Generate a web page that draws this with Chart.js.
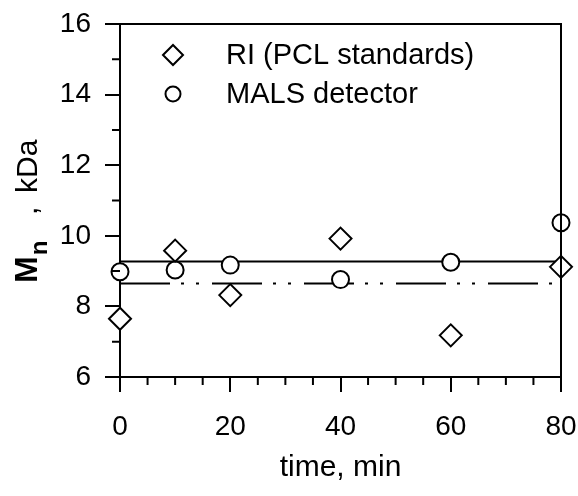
<!DOCTYPE html>
<html>
<head>
<meta charset="utf-8">
<script src="https://cdn.jsdelivr.net/npm/chart.js@4/dist/chart.umd.min.js"></script>
<style>
  html, body { margin:0; padding:0; background:#fff; }
  #wrap { width:578px; height:496px; }
</style>
</head>
<body>
<div id="wrap"><canvas id="mnChart" width="578" height="496"></canvas></div>
<script>
// sampling times (min)
const times = [0, 10, 20, 40, 60, 80];
// Mn, kDa
const riValues   = [7.65, 9.58, 8.32, 9.92, 7.18, 9.12];
const malsValues = [8.98, 9.03, 9.17, 8.76, 9.25, 10.37];
// horizontal average lines
const fitRange = [0, 80];
const malsMean = 9.27;
const riMean = 8.65;
// axes
const xTicks = [0, 20, 40, 60, 80];
const yTicks = [6, 8, 10, 12, 14, 16];
const xMinorStep = 5;
const yMinorStep = 1;
const legendLabels = ['RI (PCL standards)', 'MALS detector'];

const FONT = "'Liberation Sans', Arial, sans-serif";
const ink = '#000';

const pts = vals => times.map((t, i) => ({x:t, y:vals[i]}));
const flat = v => fitRange.map(t => ({x:t, y:v}));

const markerStyle = [
  {pointStyle:'rectRot', radius:11},
  {pointStyle:'circle', radius:8.5},
];

// minor ticks, frame box, legend and the rotated y title
const extras = {
  id:'extras',
  afterDraw(chart) {
    const {ctx, chartArea:a, scales:{x, y}} = chart;
    ctx.save();
    ctx.strokeStyle = ink;
    ctx.lineWidth = 2;
    // top + right of frame
    ctx.beginPath();
    ctx.moveTo(a.left, a.top); ctx.lineTo(a.right, a.top); ctx.lineTo(a.right, a.bottom);
    ctx.stroke();
    // minor ticks
    ctx.beginPath();
    for (let v = y.min + yMinorStep; v < y.max; v += yMinorStep) {
      if (yTicks.includes(v)) continue;
      const py = y.getPixelForValue(v);
      ctx.moveTo(a.left - 8, py); ctx.lineTo(a.left, py);
    }
    for (let v = x.min + xMinorStep; v < x.max; v += xMinorStep) {
      if (xTicks.includes(v)) continue;
      const px = x.getPixelForValue(v);
      ctx.moveTo(px, a.bottom); ctx.lineTo(px, a.bottom + 8);
    }
    ctx.stroke();

    // legend inside plot
    ctx.font = '29px ' + FONT;
    ctx.textBaseline = 'middle';
    legendLabels.forEach((lab, i) => {
      const cy = a.top + 31 + i * 39;
      const ms = markerStyle[i];
      ctx.fillStyle = '#fff';
      Chart.helpers.drawPoint(ctx, {pointStyle:ms.pointStyle, radius:ms.radius - 1, borderWidth:2, rotation:0}, a.left + 53, cy);
      ctx.fillStyle = ink;
      ctx.fillText(lab, a.left + 106, cy + 1);
    });

    // y title: M (bold) + n (bold subscript) + " , kDa"
    ctx.translate(37, 283);
    ctx.rotate(-Math.PI / 2);
    ctx.textBaseline = 'alphabetic';
    ctx.textAlign = 'left';
    ctx.font = 'bold 32px ' + FONT;
    ctx.fillText('M', 0, 0);
    const w = ctx.measureText('M').width;
    ctx.font = 'bold 24px ' + FONT;
    ctx.fillText('n', w + 1, 10);
    ctx.font = '30px ' + FONT;
    ctx.fillText(',', 68, 0);
    ctx.fillText('kDa', 90, 0);
    ctx.restore();
  }
};

new Chart(document.getElementById('mnChart'), {
  type:'scatter',
  data:{
    datasets:[
      {label:legendLabels[0], data:pts(riValues), pointStyle:'rectRot', pointRadius:11, pointHoverRadius:11,
       borderColor:ink, backgroundColor:'#fff', pointBorderWidth:2, clip:false},
      {label:legendLabels[1], data:pts(malsValues), pointStyle:'circle', pointRadius:8.5, pointHoverRadius:8.5,
       borderColor:ink, backgroundColor:'#fff', pointBorderWidth:2, clip:false},
      {type:'line', data:flat(malsMean), borderColor:ink, borderWidth:2, pointRadius:0, fill:false},
      {type:'line', data:flat(riMean), borderColor:ink, borderWidth:2, pointRadius:0, fill:false,
       borderDash:[50, 11, 3, 12, 3, 13]},
    ]
  },
  options:{
    responsive:false,
    animation:false,
    layout:{padding:{left:0, right:17, top:24, bottom:0}},
    plugins:{legend:{display:false}, tooltip:{enabled:false}},
    scales:{
      x:{
        type:'linear', min:0, max:80,
        afterBuildTicks:s => { s.ticks = xTicks.map(v => ({value:v})); },
        afterFit:s => { s.height = 119; s.paddingLeft = 0; s.paddingRight = 0; },
        grid:{drawOnChartArea:false, tickLength:15, color:ink, lineWidth:2},
        border:{color:ink, width:2},
        ticks:{color:ink, font:{family:FONT, size:28}, padding:18, maxRotation:0},
        title:{display:true, text:'time, min', color:ink, font:{family:FONT, size:30}, padding:{top:0, bottom:10}}
      },
      y:{
        type:'linear', min:6, max:16,
        afterBuildTicks:s => { s.ticks = yTicks.map(v => ({value:v})); },
        afterFit:s => { s.width = 120; s.paddingTop = 0; s.paddingBottom = 0; },
        grid:{drawOnChartArea:false, tickLength:15, color:ink, lineWidth:2},
        border:{color:ink, width:2},
        ticks:{color:ink, font:{family:FONT, size:28}, padding:14}
      }
    }
  },
  plugins:[extras]
});
</script>
</body>
</html>
